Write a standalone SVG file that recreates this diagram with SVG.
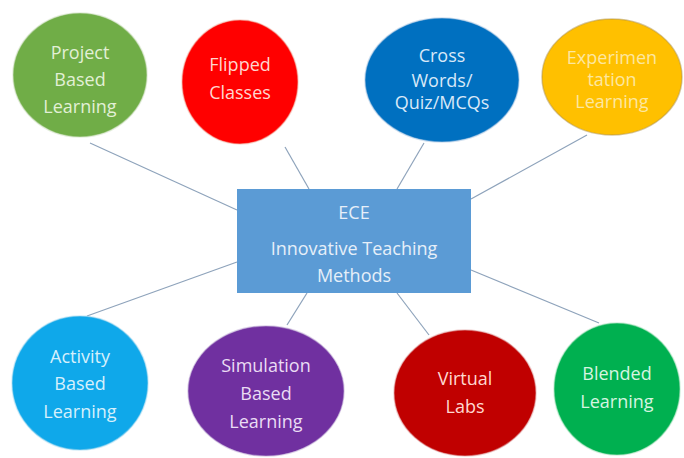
<svg xmlns="http://www.w3.org/2000/svg" width="684" height="458" viewBox="0 0 684 458">
<style>
.t{font-family:"Open Sans","Liberation Sans",sans-serif;font-size:18px;text-anchor:middle;dominant-baseline:central}
.c{stroke-width:1.5;stroke-opacity:0.5}
.ln{stroke:#8ea3bb;stroke-width:1.2;fill:none}
</style>
<rect width="684" height="458" fill="#ffffff"/>
<g id="connectors" class="ln">
<line x1="90" y1="143" x2="237" y2="210"/>
<line x1="285" y1="147" x2="309" y2="189"/>
<line x1="424" y1="143" x2="397" y2="189"/>
<line x1="587" y1="135" x2="471" y2="199"/>
<line x1="237" y1="262" x2="87" y2="316"/>
<line x1="307" y1="293" x2="287" y2="325"/>
<line x1="397" y1="293" x2="429" y2="335"/>
<line x1="471" y1="270" x2="599" y2="323"/>
</g>
<g id="center">
<rect x="237" y="189" width="234" height="104" fill="#5b9bd5"/>
<text class="t" x="354" y="212" fill="#e6eff9" font-size="16">ECE</text>
<text class="t" x="354" y="248" fill="#e6eff9">Innovative Teaching</text>
<text class="t" x="354" y="275" fill="#e6eff9">Methods</text>
</g>
<g id="project">
<ellipse class="c" cx="80" cy="75" rx="67" ry="62" fill="#70ad47" stroke="#c8dcb8"/>
<text class="t" x="80" y="52" fill="#e2f0d6">Project</text>
<text class="t" x="80" y="79" fill="#e2f0d6">Based</text>
<text class="t" x="80" y="106" fill="#e2f0d6">Learning</text>
</g>
<g id="flipped">
<ellipse class="c" cx="240" cy="82" rx="58" ry="62" fill="#ff0000" stroke="#f0b0a0"/>
<text class="t" x="240" y="64" fill="#ffd6cf">Flipped</text>
<text class="t" x="240" y="92" fill="#ffd6cf">Classes</text>
</g>
<g id="cross">
<ellipse class="c" cx="442" cy="80" rx="77" ry="62" fill="#0070c0" stroke="#a0c0e0"/>
<text class="t" x="442" y="55" fill="#d8e8f8" font-size="15">Cross</text>
<text class="t" x="442" y="80" fill="#d8e8f8" font-size="15">Words/</text>
<text class="t" x="442" y="102" fill="#d8e8f8" font-size="15">Quiz/MCQs</text>
</g>
<g id="experimentation">
<ellipse class="c" cx="612" cy="77" rx="70" ry="58" fill="#ffc000" stroke="#b09040"/>
<text class="t" x="612" y="57" fill="#fde7a0" font-size="14">Experimen</text>
<text class="t" x="612" y="79" fill="#fde7a0" font-size="14">tation</text>
<text class="t" x="612" y="101" fill="#fde7a0" font-size="14">Learning</text>
</g>
<g id="activity">
<ellipse class="c" cx="80" cy="383" rx="68" ry="67" fill="#0fa8ea" stroke="#a0d8f0"/>
<text class="t" x="80" y="356" fill="#d6f0fc">Activity</text>
<text class="t" x="80" y="383" fill="#d6f0fc">Based</text>
<text class="t" x="80" y="411" fill="#d6f0fc">Learning</text>
</g>
<g id="simulation">
<ellipse class="c" cx="266" cy="391" rx="78" ry="65" fill="#7030a0" stroke="#b8a0d0"/>
<text class="t" x="266" y="365" fill="#eadcf4">Simulation</text>
<text class="t" x="266" y="393" fill="#eadcf4">Based</text>
<text class="t" x="266" y="421" fill="#eadcf4">Learning</text>
</g>
<g id="virtual">
<ellipse class="c" cx="465" cy="393" rx="71" ry="63" fill="#c00000" stroke="#e0a0a0"/>
<text class="t" x="465" y="378" fill="#ffd8d0">Virtual</text>
<text class="t" x="465" y="406" fill="#ffd8d0">Labs</text>
</g>
<g id="blended">
<ellipse class="c" cx="617" cy="389" rx="63" ry="66" fill="#00b050" stroke="#a0e0b8"/>
<text class="t" x="617" y="373" fill="#d6f5e0">Blended</text>
<text class="t" x="617" y="401" fill="#d6f5e0">Learning</text>
</g>
</svg>
